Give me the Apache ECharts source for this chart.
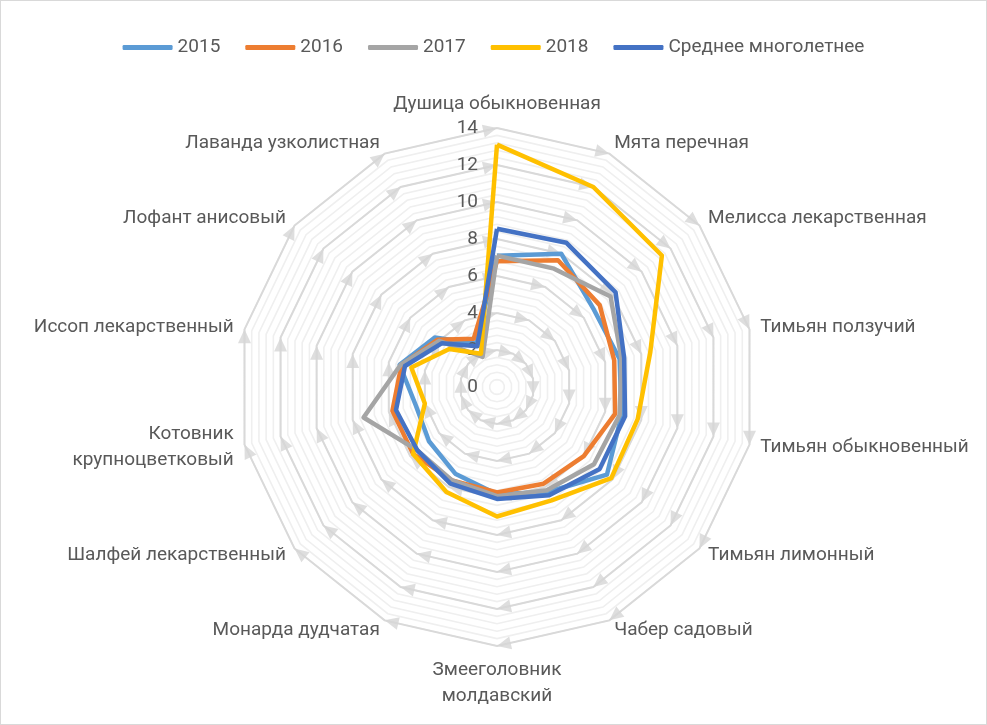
<!DOCTYPE html>
<html><head><meta charset="utf-8">
<script src="https://cdn.jsdelivr.net/npm/echarts@6/dist/echarts.min.js"></script>
<style>html,body{margin:0;padding:0;background:#fff}#c{width:987px;height:725px;box-sizing:border-box;border:1px solid #D9D9D9}</style>
</head><body><div id="c"></div>
<script>
const categories = ['Душица обыкновенная','Мята перечная','Мелисса лекарственная','Тимьян ползучий','Тимьян обыкновенный','Тимьян лимонный','Чабер садовый','Змееголовник\nмолдавский','Монарда дудчатая','Шалфей лекарственный','Котовник\nкрупноцветковый','Иссоп лекарственный','Лофант анисовый','Лаванда узколистная'];
const seriesNames = ['2015','2016','2017','2018','Среднее многолетнее'];
const v2015 = [7.1, 8.0, 6.7, 6.8, 6.9, 7.6, 6.3, 5.8, 5.2, 4.7, 4.5, 5.4, 4.3, 2.6];
const v2016 = [6.8, 7.6, 7.1, 6.5, 6.55, 6.0, 5.8, 5.7, 5.6, 5.8, 5.8, 5.3, 4.1, 2.9];
const v2017 = [7.1, 7.1, 7.85, 6.9, 6.8, 6.7, 6.2, 5.9, 5.6, 5.5, 7.4, 5.35, 4.0, 1.8];
const v2018 = [13.1, 12.0, 11.4, 8.5, 7.8, 7.9, 6.8, 7.0, 6.3, 5.8, 4.0, 4.75, 3.3, 2.0];
const vMean = [8.55, 8.65, 8.2, 7.05, 7.1, 7.1, 6.5, 6.05, 5.8, 5.5, 5.6, 5.1, 3.8, 2.45];
const tickValues = [0, 2, 4, 6, 8, 10, 12, 14];
const axisMax = 14;
const colors = ['#5B9BD5','#ED7D31','#A5A5A5','#FFC000','#4472C4'];

const FONT = 'Roboto';
const FS = 19;
const TXT = '#595959';
const center = [496, 386];
const radius = 259;
const n = categories.length;
const step = 360 / n;
// ECharts radar runs counter-clockwise; reorder so categories run clockwise from the top
const order = [0].concat(Array.from({ length: n - 1 }, (_, k) => n - 1 - k));
const reorder = arr => order.map(i => arr[i]);

// arrowheads on major rings (decoration of Excel gridlines)
const arrowLen = 14;
const arrows = [];
tickValues.filter(t => t > 0).forEach(r => {
  for (let i = 0; i < n; i++) {
    const ang = i * step;
    const phiDeg = ang - step / 2;
    const phi = phiDeg * Math.PI / 180;
    arrows.push({
      value: [r, ang],
      symbolRotate: -(phiDeg + 90),
      symbolOffset: [-Math.cos(phi) * arrowLen / 2, -Math.sin(phi) * arrowLen / 2]
    });
  }
});

const allVals = [v2015, v2016, v2017, v2018, vMean];
const indicators = reorder(categories).map(c => ({ name: c, max: axisMax, min: 0 }));
const chart = echarts.init(document.getElementById('c'));
chart.setOption({
  animation: false,
  textStyle: { fontFamily: FONT },
  legend: {
    data: seriesNames, top: 32, left: 'center', icon: 'roundRect',
    itemWidth: 50, itemHeight: 5, itemGap: 25,
    textStyle: { fontSize: FS, color: TXT, fontFamily: FONT }
  },
  radar: [{
    center: center, radius: radius, startAngle: 90, splitNumber: 35, shape: 'polygon',
    indicator: indicators,
    axisName: { show: false },
    axisLine: { show: false }, axisTick: { show: false }, axisLabel: { show: false },
    splitArea: { show: false },
    splitLine: { lineStyle: { color: '#EFEFEF', width: 1.6 } }
  }, {
    center: center, radius: radius, startAngle: 90, splitNumber: 7, shape: 'polygon',
    indicator: indicators,
    nameGap: 11,
    axisName: { color: TXT, fontSize: FS, fontFamily: FONT, lineHeight: 26 },
    axisLine: { show: false }, axisTick: { show: false }, axisLabel: { show: false },
    splitArea: { show: false },
    splitLine: { lineStyle: { color: '#D9D9D9', width: 2 } }
  }],
  polar: { center: center, radius: radius },
  angleAxis: {
    type: 'value', min: 0, max: 360, startAngle: 90, clockwise: true,
    axisLine: { show: false }, axisTick: { show: false }, axisLabel: { show: false }, splitLine: { show: false }
  },
  radiusAxis: {
    type: 'value', min: 0, max: axisMax, interval: 2,
    axisLine: { show: false }, axisTick: { show: false }, splitLine: { show: false },
    axisLabel: { color: TXT, fontSize: FS, fontFamily: FONT, margin: 19 },
    z: 5
  },
  series: [{
    type: 'scatter', coordinateSystem: 'polar', silent: true, z: 1,
    symbol: 'triangle', symbolSize: [13, arrowLen],
    itemStyle: { color: '#D6D6D6' },
    data: arrows
  }].concat(seriesNames.map((nm, k) => ({
    type: 'radar', radarIndex: 1, name: nm, z: 3 + k,
    symbol: 'none',
    lineStyle: { color: colors[k], width: 4.5, join: 'round' },
    itemStyle: { color: colors[k] },
    data: [{ value: reorder(allVals[k]), name: nm }]
  })))
});
</script></body></html>
